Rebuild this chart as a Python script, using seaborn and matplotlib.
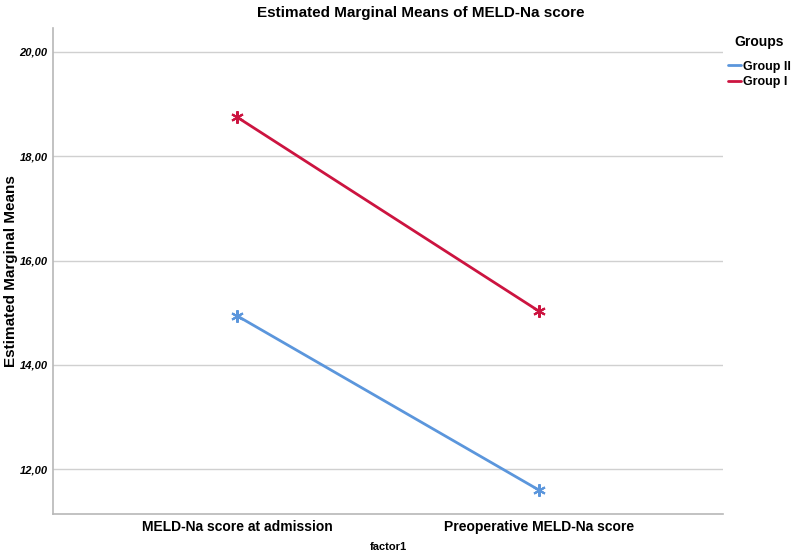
import pandas as pd
import seaborn as sns
import matplotlib.pyplot as plt
from matplotlib.lines import Line2D

# data
factor1 = ["MELD-Na score at admission", "Preoperative MELD-Na score"]
group_1 = [18.75, 15.03]
group_2 = [14.94, 11.60]
groups = ["Group II", "Group I"]
colors = {"Group II": "#5b96dc", "Group I": "#cc1440"}

df = pd.DataFrame({
    "factor1": factor1 * 2,
    "mean": group_2 + group_1,
    "Groups": ["Group II"] * 2 + ["Group I"] * 2,
})

sns.set_style("white")
plt.rcParams["font.family"] = ["Liberation Sans", "DejaVu Sans"]
plt.rcParams["text.color"] = "black"
plt.rcParams["axes.labelcolor"] = "black"
plt.rcParams["xtick.color"] = "black"
plt.rcParams["ytick.color"] = "black"

fig = plt.figure(figsize=(7.94, 5.52), dpi=100)
ax = fig.add_axes([0.0668, 0.0688, 0.8438, 0.8805])

sns.pointplot(data=df, x="factor1", y="mean", hue="Groups", hue_order=groups,
              palette=colors, markers=(6, 2, 0), linestyles="-", ax=ax,
              markersize=9, linewidth=2)

ax.set_xlim(-0.61, 1.61)
ax.set_ylim(11.14, 20.46)
ax.set_yticks([12, 14, 16, 18, 20])
ax.set_yticklabels(["12,00", "14,00", "16,00", "18,00", "20,00"],
                   fontstyle="italic", fontweight="bold", fontsize=8)
ax.set_xticks([0, 1])
ax.set_xticklabels(factor1, fontweight="bold", fontsize=10)
ax.yaxis.grid(True, color="#d0d0d0", linewidth=1)
ax.set_axisbelow(True)
ax.tick_params(length=0, pad=4)

for s in ["top", "right"]:
    ax.spines[s].set_visible(False)
for s in ["left", "bottom"]:
    ax.spines[s].set_color("#b8b8b8")
    ax.spines[s].set_linewidth(1.2)

ax.set_ylabel("Estimated Marginal Means", fontweight="bold", fontsize=11)
ax.yaxis.label.set_va("center")
ax.yaxis.set_label_coords(-0.063, 0.5)
ax.set_xlabel("factor1", fontweight="bold", fontsize=8, labelpad=6)
fig.suptitle("Estimated Marginal Means of MELD-Na score", fontweight="bold",
             fontsize=11, x=0.53, y=0.99)

handles = [Line2D([0], [0], color=colors[g], lw=2) for g in groups]
leg = ax.legend(handles, groups, title="Groups", loc="upper left",
                bbox_to_anchor=(1.0, 0.995), frameon=False, handlelength=1.0,
                handletextpad=0.2, labelspacing=0.3, borderaxespad=0,
                prop={"weight": "bold", "size": 9})
leg.get_title().set_fontweight("bold")
leg.get_title().set_fontsize(10)
leg._legend_box.sep = 8

fig.savefig("out.png", dpi=100)
